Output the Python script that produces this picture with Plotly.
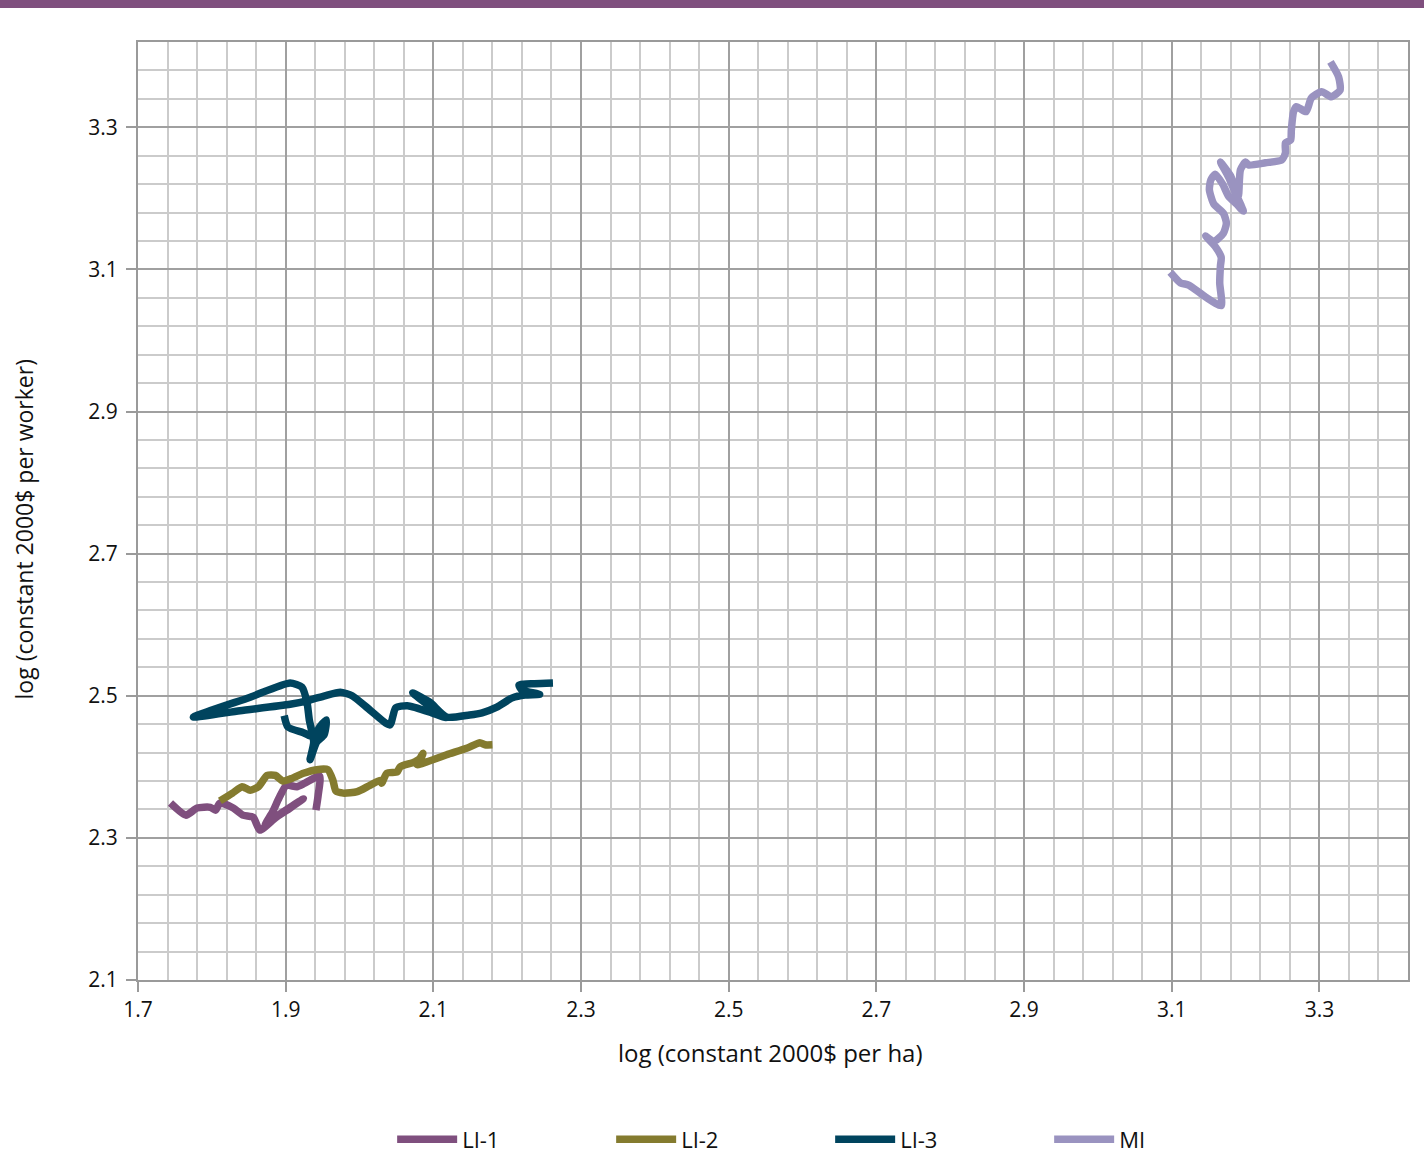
import plotly.graph_objects as go

# ---- data (log constant 2000$ per ha, log constant 2000$ per worker) ----
li1_x = [1.744, 1.765, 1.780, 1.798, 1.805, 1.811, 1.829, 1.842, 1.856, 1.865, 1.886, 1.906,
         1.924, 1.909, 1.890, 1.872, 1.882, 1.891, 1.901, 1.915, 1.926, 1.946, 1.944, 1.941]
li1_y = [2.349, 2.332, 2.342, 2.343, 2.339, 2.349, 2.342, 2.332, 2.329, 2.311, 2.328, 2.342,
         2.355, 2.345, 2.332, 2.318, 2.336, 2.356, 2.374, 2.372, 2.377, 2.387, 2.360, 2.339]

li2_x = [1.811, 1.828, 1.841, 1.852, 1.863, 1.875, 1.886, 1.896, 1.909, 1.924, 1.942, 1.957,
         1.964, 1.968, 1.978, 1.997, 2.014, 2.028, 2.030, 2.037, 2.051, 2.055, 2.075, 2.084,
         2.086, 2.078, 2.091, 2.118, 2.145, 2.163, 2.170, 2.180]
li2_y = [2.352, 2.363, 2.372, 2.367, 2.372, 2.388, 2.388, 2.380, 2.384, 2.391, 2.396, 2.396,
         2.381, 2.366, 2.363, 2.365, 2.374, 2.381, 2.377, 2.391, 2.393, 2.400, 2.407, 2.414,
         2.419, 2.403, 2.407, 2.417, 2.426, 2.434, 2.431, 2.431]

li3_x = [1.898, 1.903, 1.924, 1.938, 1.946, 1.955, 1.952, 1.942, 1.933, 1.938, 1.932, 1.929,
         1.922, 1.906, 1.852, 1.775, 1.838, 1.906, 1.933, 1.953, 1.974, 1.990, 2.014, 2.041,
         2.049, 2.065, 2.098, 2.117, 2.093, 2.072, 2.095, 2.118, 2.149, 2.166, 2.186, 2.207,
         2.224, 2.244, 2.220, 2.216, 2.237, 2.262]
li3_y = [2.472, 2.456, 2.448, 2.442, 2.456, 2.466, 2.445, 2.435, 2.410, 2.435, 2.466, 2.490,
         2.512, 2.518, 2.498, 2.470, 2.479, 2.488, 2.494, 2.500, 2.505, 2.500, 2.480, 2.459,
         2.483, 2.486, 2.476, 2.469, 2.487, 2.504, 2.491, 2.470, 2.473, 2.476, 2.484, 2.497,
         2.501, 2.502, 2.508, 2.515, 2.517, 2.518]

mi_x = [3.098, 3.112, 3.123, 3.146, 3.167, 3.165, 3.166, 3.167, 3.159, 3.146, 3.157, 3.170,
        3.174, 3.170, 3.157, 3.151, 3.153, 3.159, 3.169, 3.177, 3.188, 3.197, 3.186, 3.177,
        3.166, 3.180, 3.190, 3.193, 3.200, 3.204, 3.227, 3.249, 3.254, 3.254, 3.261, 3.262,
        3.265, 3.269, 3.282, 3.289, 3.303, 3.316, 3.328, 3.326, 3.315]
mi_y = [3.096, 3.081, 3.078, 3.061, 3.049, 3.081, 3.105, 3.117, 3.132, 3.147, 3.139, 3.151,
        3.165, 3.179, 3.192, 3.212, 3.226, 3.234, 3.220, 3.203, 3.192, 3.182, 3.208, 3.230,
        3.251, 3.231, 3.202, 3.240, 3.251, 3.247, 3.250, 3.254, 3.264, 3.278, 3.282, 3.296,
        3.322, 3.329, 3.322, 3.341, 3.350, 3.343, 3.352, 3.371, 3.392]

series_names = ["LI-1", "LI-2", "LI-3", "MI"]
series_colors = ["#7f4f7e", "#847b2f", "#00445e", "#9a93c0"]
tick_vals_x = [1.7, 1.9, 2.1, 2.3, 2.5, 2.7, 2.9, 3.1, 3.3]
tick_vals_y = [2.1, 2.3, 2.5, 2.7, 2.9, 3.1, 3.3]

FONT = "Open Sans"
TXT = "#111111"

fig = go.Figure()
for name, color, xs, ys in zip(series_names, series_colors,
                               [li1_x, li2_x, li3_x, mi_x], [li1_y, li2_y, li3_y, mi_y]):
    fig.add_trace(go.Scatter(x=xs, y=ys, mode="lines", name=name,
                             line=dict(color=color, width=7.5, shape="spline", smoothing=0.6)))

def axis(rng, ticks, t0):
    return dict(
        range=rng, tickmode="array", tickvals=ticks, ticktext=[f"{v:.1f}" for v in ticks],
        showline=True, linecolor="#9a9a9a", linewidth=2, mirror=True,
        showgrid=True, gridcolor="#a0a0a0", gridwidth=2,
        ticks="outside", ticklen=10, tickwidth=2, tickcolor="#9a9a9a",
        tickfont=dict(family=FONT, size=21, color=TXT),
        zeroline=False,
        minor=dict(tick0=t0, dtick=0.04, showgrid=True, gridcolor="#cbcbcb", gridwidth=2, ticks=""),
    )

xa = axis([1.7, 3.42], tick_vals_x, 1.7)
ya = axis([2.1, 3.42], tick_vals_y, 2.1)
ya["ticklabelstandoff"] = 4

fig.update_layout(
    width=1424, height=1156,
    margin=dict(l=138, r=16, t=42, b=176, autoexpand=False),
    paper_bgcolor="white", plot_bgcolor="white",
    xaxis=xa, yaxis=ya,
    showlegend=True,
    legend=dict(orientation="h", x=0.545, xanchor="center", y=-0.17, yanchor="middle",
                font=dict(family=FONT, size=22, color=TXT),
                entrywidth=144, entrywidthmode="pixels", itemwidth=60),
    shapes=[dict(type="rect", xref="paper", yref="paper", x0=-0.2, x1=1.1,
                 y0=1.0362, y1=1.08, fillcolor="#7f4f7e", line=dict(width=0), layer="above")],
    annotations=[
        dict(text="log (constant 2000$ per ha)", xref="paper", yref="paper", x=0.498, y=-0.077,
             xanchor="center", yanchor="middle", showarrow=False,
             font=dict(family=FONT, size=24, color=TXT)),
        dict(text="log (constant 2000$ per worker)", xref="paper", yref="paper", x=-0.09, y=0.48,
             xanchor="center", yanchor="middle", textangle=-90, showarrow=False,
             font=dict(family=FONT, size=23, color=TXT)),
    ],
)

fig.write_html("out.html")
